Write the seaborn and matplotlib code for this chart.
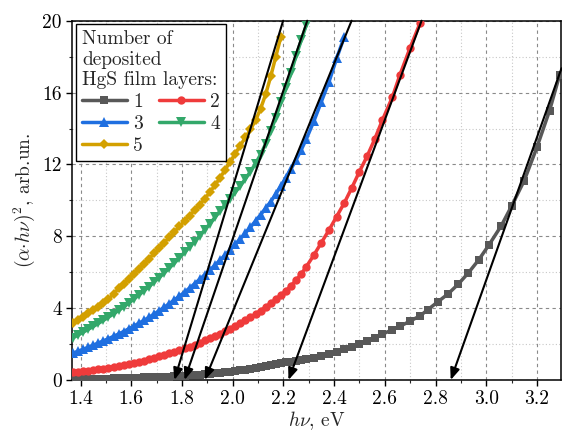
import matplotlib
matplotlib.use("Agg")
import matplotlib.pyplot as plt
import seaborn as sns
import pandas as pd
from matplotlib.ticker import MultipleLocator, FormatStrFormatter
from matplotlib.lines import Line2D

# ---------------- data ----------------
energy = [1.37, 1.39, 1.41, 1.43, 1.45, 1.47, 1.49, 1.51, 1.53, 1.55, 1.57, 1.59,
          1.61, 1.63, 1.65, 1.67, 1.69, 1.71, 1.73, 1.75, 1.77, 1.79, 1.81, 1.83,
          1.85, 1.87, 1.89, 1.91, 1.93, 1.95, 1.97, 1.99, 2.01, 2.03, 2.05, 2.07,
          2.09, 2.11, 2.13, 2.15, 2.17, 2.19, 2.21, 2.23, 2.25, 2.27, 2.29, 2.32,
          2.35, 2.38, 2.41, 2.44, 2.47, 2.50, 2.53, 2.56, 2.59, 2.63, 2.66, 2.70,
          2.74, 2.77, 2.81, 2.85, 2.89, 2.93, 2.97, 3.01, 3.06, 3.10, 3.15, 3.20,
          3.25, 3.29]

layers_1 = [0.05, 0.05, 0.06, 0.06, 0.07, 0.07, 0.08, 0.08, 0.09, 0.10, 0.11, 0.12,
            0.12, 0.13, 0.14, 0.15, 0.16, 0.17, 0.18, 0.19, 0.21, 0.23, 0.25, 0.26,
            0.28, 0.30, 0.32, 0.34, 0.37, 0.40, 0.43, 0.46, 0.50, 0.54, 0.58, 0.63,
            0.68, 0.73, 0.78, 0.83, 0.88, 0.93, 0.98, 1.03, 1.07, 1.11, 1.16, 1.24,
            1.32, 1.42, 1.56, 1.70, 1.85, 2.02, 2.18, 2.36, 2.55, 2.80, 2.99, 3.28,
            3.58, 3.92, 4.36, 4.80, 5.34, 5.97, 6.68, 7.50, 8.60, 9.68, 11.10, 12.95,
            15.00, 17.00]

layers_2 = [0.42, 0.45, 0.48, 0.52, 0.56, 0.60, 0.64, 0.68, 0.73, 0.78, 0.83, 0.89,
            0.95, 1.01, 1.08, 1.15, 1.23, 1.31, 1.39, 1.48, 1.57, 1.66, 1.76, 1.86,
            1.97, 2.08, 2.20, 2.32, 2.45, 2.58, 2.72, 2.86, 3.01, 3.16, 3.32, 3.49,
            3.67, 3.86, 4.06, 4.27, 4.49, 4.72, 4.96, 5.25, 5.55, 5.90, 6.30, 6.95,
            7.65, 8.35, 9.10, 9.85, 10.70, 11.60, 12.45, 13.40, 14.45, 15.75, 17.00, 18.50,
            19.90]

layers_3 = [1.50, 1.60, 1.71, 1.82, 1.94, 2.06, 2.18, 2.30, 2.43, 2.56, 2.70, 2.85,
            3.00, 3.16, 3.32, 3.49, 3.67, 3.86, 4.05, 4.25, 4.46, 4.67, 4.89, 5.12,
            5.36, 5.61, 5.86, 6.12, 6.39, 6.67, 6.96, 7.25, 7.55, 7.86, 8.18, 8.51,
            8.85, 9.20, 9.56, 9.93, 10.35, 10.80, 11.25, 11.75, 12.25, 12.80, 13.40, 14.40,
            15.50, 16.60, 17.90, 19.10]

layers_4 = [2.35, 2.50, 2.66, 2.82, 2.98, 3.15, 3.32, 3.50, 3.68, 3.87, 4.07, 4.28,
            4.50, 4.73, 4.96, 5.20, 5.45, 5.70, 5.96, 6.23, 6.51, 6.80, 7.10, 7.40,
            7.71, 8.03, 8.36, 8.70, 9.05, 9.40, 9.76, 10.10, 10.45, 10.80, 11.20, 11.60,
            12.05, 12.55, 13.15, 13.85, 14.60, 15.45, 16.25, 17.10, 18.05, 18.90, 19.75]

layers_5 = [3.20, 3.36, 3.53, 3.71, 3.89, 4.08, 4.28, 4.50, 4.80, 5.10, 5.35, 5.62,
            5.90, 6.18, 6.46, 6.75, 7.05, 7.35, 7.65, 7.95, 8.25, 8.55, 8.85, 9.15,
            9.45, 9.75, 10.10, 10.45, 10.85, 11.25, 11.70, 12.15, 12.60, 13.05, 13.50, 13.95,
            14.45, 15.10, 15.90, 16.90, 18.00, 19.10]

series_labels = ["1", "2", "3", "4", "5"]
series_values = [layers_1, layers_2, layers_3, layers_4, layers_5]

# Tauc extrapolation lines: (top point) -> band gap on the x axis
gap_energy = [2.86, 2.22, 1.89, 1.81, 1.77]
tangent_top_x = [3.297, 2.745, 2.469, 2.294, 2.199]
tangent_top_y = [17.35, 20.0, 20.0, 20.0, 20.0]

# ---------------- style ----------------
colors = ["#585858", "#ef3b3b", "#1f6fe0", "#33a86a", "#d3a000"]
markers = ["s", "o", "^", "v", "D"]
msizes = [5.5, 6, 6.5, 6.5, 5]

sns.set_style("ticks")
plt.rcParams["font.family"] = ["cmr10", "DejaVu Serif"]
plt.rcParams["mathtext.fontset"] = "cm"
plt.rcParams["axes.formatter.use_mathtext"] = True
plt.rcParams["font.size"] = 14

fig = plt.figure(figsize=(5.62, 4.38), dpi=100)
ax = fig.add_axes([0.1276, 0.1324, 0.8706, 0.8203])

rows = []
for lab, vals in zip(series_labels, series_values):
    for e, v in zip(energy, vals):
        rows.append({"E": e, "A": v, "layers": lab})
df = pd.DataFrame(rows)

handles = []
for lab, col, mk, ms in zip(series_labels, colors, markers, msizes):
    sub = df[df["layers"] == lab]
    sns.lineplot(data=sub, x="E", y="A", ax=ax, color=col, marker=mk,
                 markersize=ms, markeredgewidth=0, linewidth=2.5,
                 estimator=None, legend=False, zorder=3)
    handles.append(Line2D([], [], color=col, marker=mk, markersize=ms,
                          markeredgewidth=0, linewidth=2.5, label=lab))

for gx, tx, ty in zip(gap_energy, tangent_top_x, tangent_top_y):
    ax.annotate("", xy=(gx, 0.0), xytext=(tx, ty),
                arrowprops=dict(arrowstyle="-|>,head_length=0.5,head_width=0.2",
                                color="black", lw=1.5,
                                mutation_scale=14, shrinkA=0, shrinkB=0),
                zorder=5, annotation_clip=False)

ax.set_xlim(1.365, 3.295)
ax.set_ylim(0, 20)
ax.xaxis.set_major_locator(MultipleLocator(0.2))
ax.xaxis.set_minor_locator(MultipleLocator(0.1))
ax.yaxis.set_major_locator(MultipleLocator(4))
ax.yaxis.set_minor_locator(MultipleLocator(2))
ax.xaxis.set_major_formatter(FormatStrFormatter("%.1f"))
ax.yaxis.set_major_formatter(FormatStrFormatter("%d"))

ax.set_axisbelow(True)
ax.grid(which="major", linestyle=(0, (3, 3)), color="#8a8a8a", linewidth=0.8)
ax.grid(which="minor", linestyle=(0, (1, 2)), color="#c8c8c8", linewidth=0.8)

for sp in ax.spines.values():
    sp.set_visible(True)
    sp.set_color("black")
    sp.set_linewidth(1.1)
ax.tick_params(which="major", direction="out", length=4, width=1, labelsize=14,
               colors="black", pad=3)
ax.tick_params(which="minor", direction="out", length=2.5, width=0.8)

ax.set_xlabel(r"$h\nu$, eV", fontsize=14, labelpad=1)
ax.set_ylabel(r"$(\alpha{\cdot}h\nu)^2$, arb.un.", fontsize=14, labelpad=4)

order = [0, 2, 4, 1, 3]
leg = ax.legend([handles[i] for i in order], [series_labels[i] for i in order],
                title="Number of\ndeposited\nHgS film layers:", ncol=2,
                loc="upper left", bbox_to_anchor=(0.009, 0.991), borderaxespad=0,
                frameon=True, fancybox=False, edgecolor="black", framealpha=1,
                fontsize=14, title_fontsize=14, handlelength=2.3,
                handletextpad=0.35, columnspacing=0.8, labelspacing=0.2,
                borderpad=0.3, alignment="left")
leg.get_frame().set_linewidth(1.0)
leg.set_zorder(10)

fig.savefig("out.png", dpi=100)
